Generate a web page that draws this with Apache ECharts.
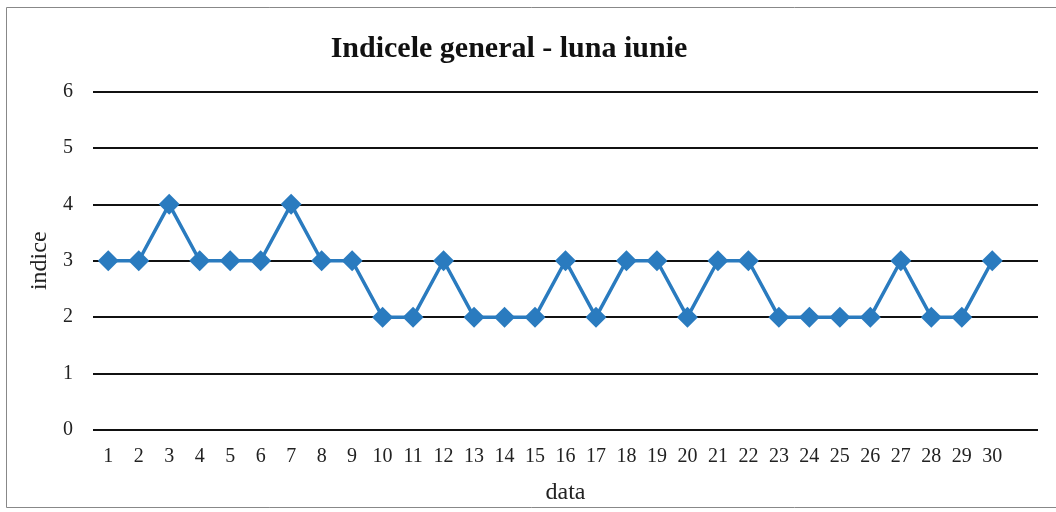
<!DOCTYPE html>
<html>
<head>
<meta charset="utf-8">
<script src="https://cdn.jsdelivr.net/npm/echarts@6/dist/echarts.min.js"></script>
<style>
html,body{margin:0;padding:0;background:#fff;}
#c{width:1056px;height:512px;}
</style>
</head>
<body>
<div id="c"></div>
<script>
var categories = ['1','2','3','4','5','6','7','8','9','10','11','12','13','14','15','16','17','18','19','20','21','22','23','24','25','26','27','28','29','30'];
var values = [3,3,4,3,3,3,4,3,3,2,2,3,2,2,2,3,2,3,3,2,3,3,2,2,2,2,3,2,2,3];
var yTicks = [0,1,2,3,4,5,6];

var chart = echarts.init(document.getElementById('c'), null, {renderer:'canvas'});
var serif = '"Liberation Serif", "Times New Roman", serif';
chart.setOption({
  backgroundColor:'#fff',
  animation:false,
  title:{
    text:'Indicele general - luna iunie',
    left:504, top:29, textAlign:'center',
    textStyle:{fontFamily:serif, fontWeight:'bold', fontSize:30, color:'#111'}
  },
  graphic:[{
    type:'rect', shape:{x:6.5,y:7.5,width:1060,height:500},
    style:{fill:'none', stroke:'#888', lineWidth:1}
  }],
  grid:{left:93, right:18, top:91.5, bottom:82},
  xAxis:{
    type:'category',
    data:categories.concat(['']),
    boundaryGap:true,
    name:'data', nameLocation:'middle', nameGap:51,
    nameTextStyle:{fontFamily:serif, fontSize:24, color:'#222'},
    axisLine:{show:false},
    axisTick:{show:false},
    axisLabel:{fontFamily:serif, fontSize:20, color:'#222', margin:17, interval:0}
  },
  yAxis:{
    type:'value', min:yTicks[0], max:yTicks[yTicks.length-1], interval:1,
    name:'indice', nameLocation:'middle', nameGap:41, nameRotate:90,
    nameTextStyle:{fontFamily:serif, fontSize:24, color:'#222'},
    axisLine:{show:false}, axisTick:{show:false},
    axisLabel:{fontFamily:serif, fontSize:20, color:'#222', margin:20},
    splitLine:{lineStyle:{color:'#111', width:2}}
  },
  series:[{
    type:'line',
    data:values,
    symbol:'diamond', symbolSize:21,
    itemStyle:{color:'#2a7bbf'},
    lineStyle:{color:'#2a7bbf', width:3.5}
  }]
});
</script>
</body>
</html>
